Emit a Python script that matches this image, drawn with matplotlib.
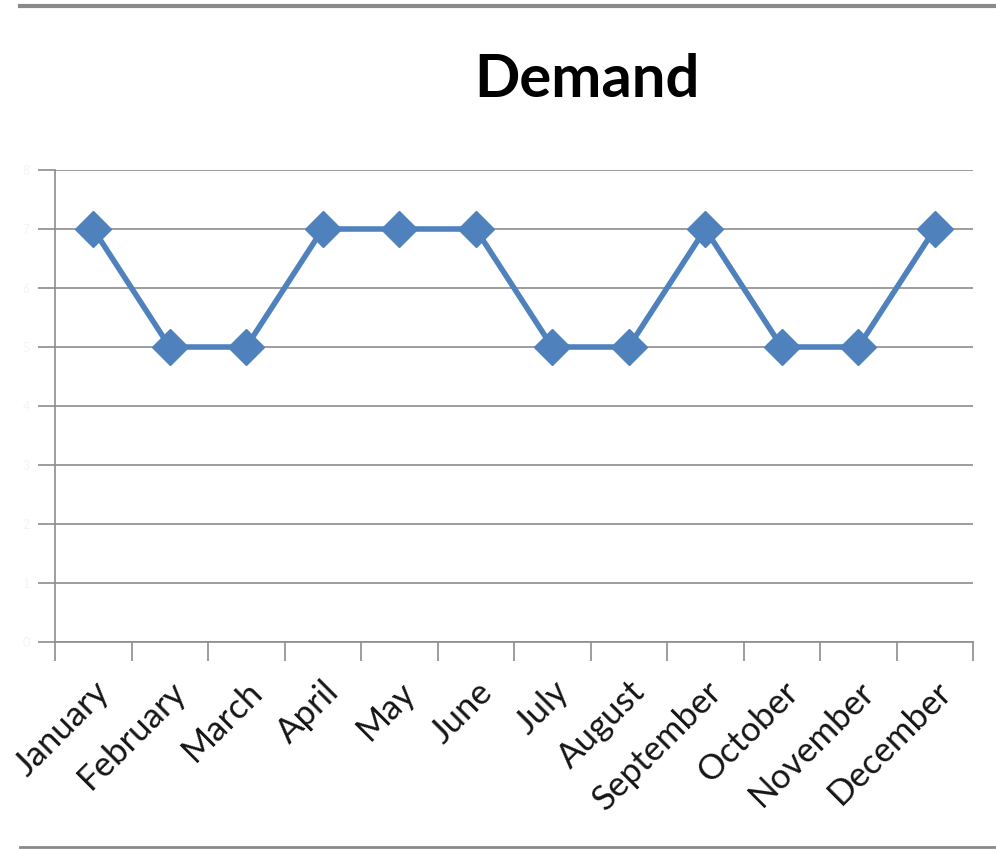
import numpy as np
import matplotlib
matplotlib.use('Agg')
from matplotlib import pyplot as plt
from matplotlib.lines import Line2D

months = ['January', 'February', 'March', 'April', 'May', 'June',
          'July', 'August', 'September', 'October', 'November', 'December']
demand = [7, 5, 5, 7, 7, 7, 5, 5, 7, 5, 5, 7]
y_ticks = [0, 1, 2, 3, 4, 5, 6, 7, 8]

plt.rcParams['font.family'] = ['Lato', 'DejaVu Sans']

W, H = 996, 849
fig = plt.figure(figsize=(W / 100, H / 100), dpi=100)
ax = fig.add_axes([55 / W, 1 - 642 / H, (973 - 55) / W, (642 - 170) / H])

x = np.arange(len(months))
ax.plot(x, demand, color='#4f81bd', lw=4, marker='D', ms=18,
        markerfacecolor='#4f81bd', markeredgecolor='#4f81bd',
        solid_joinstyle='round', zorder=3, clip_on=False)

ax.set_xlim(-0.5, len(months) - 0.5)
ax.set_ylim(y_ticks[0], y_ticks[-1])
ax.set_yticks(y_ticks)
ax.set_yticklabels([str(v) for v in y_ticks], color='#f4f4f4', fontsize=9)
ax.yaxis.grid(True, color='#8c8c8c', lw=1.2)
ax.set_axisbelow(True)

# category ticks sit between the categories
ax.set_xticks(np.arange(-0.5, len(months), 1.0))
ax.set_xticklabels([])
ax.set_xticks(x, minor=True)
ax.set_xticklabels(months, minor=True, rotation=45, ha='right', va='top',
                   rotation_mode='anchor', fontsize=25, color='#151515')
ax.tick_params(axis='x', which='minor', length=0, pad=24)
ax.tick_params(axis='x', which='major', length=14, width=1.2, color='#8c8c8c')
ax.tick_params(axis='y', length=12, width=1.2, color='#8c8c8c', pad=6)

for side in ['top', 'right']:
    ax.spines[side].set_visible(False)
for side in ['left', 'bottom']:
    ax.spines[side].set_color('#8c8c8c')
    ax.spines[side].set_linewidth(1.2)

fig.text(587 / W, 1 - 80 / H, 'Demand', ha='center', va='center',
         fontsize=43, fontweight='bold', color='black')

# frame lines of the screenshot
fig.add_artist(Line2D([20 / W, 1], [1 - 6 / H, 1 - 6 / H], color='#8a8a8a', lw=3))
fig.add_artist(Line2D([20 / W, 1], [1 - 847 / H, 1 - 847 / H], color='#8a8a8a', lw=2))

fig.savefig('out.png', dpi=100)
